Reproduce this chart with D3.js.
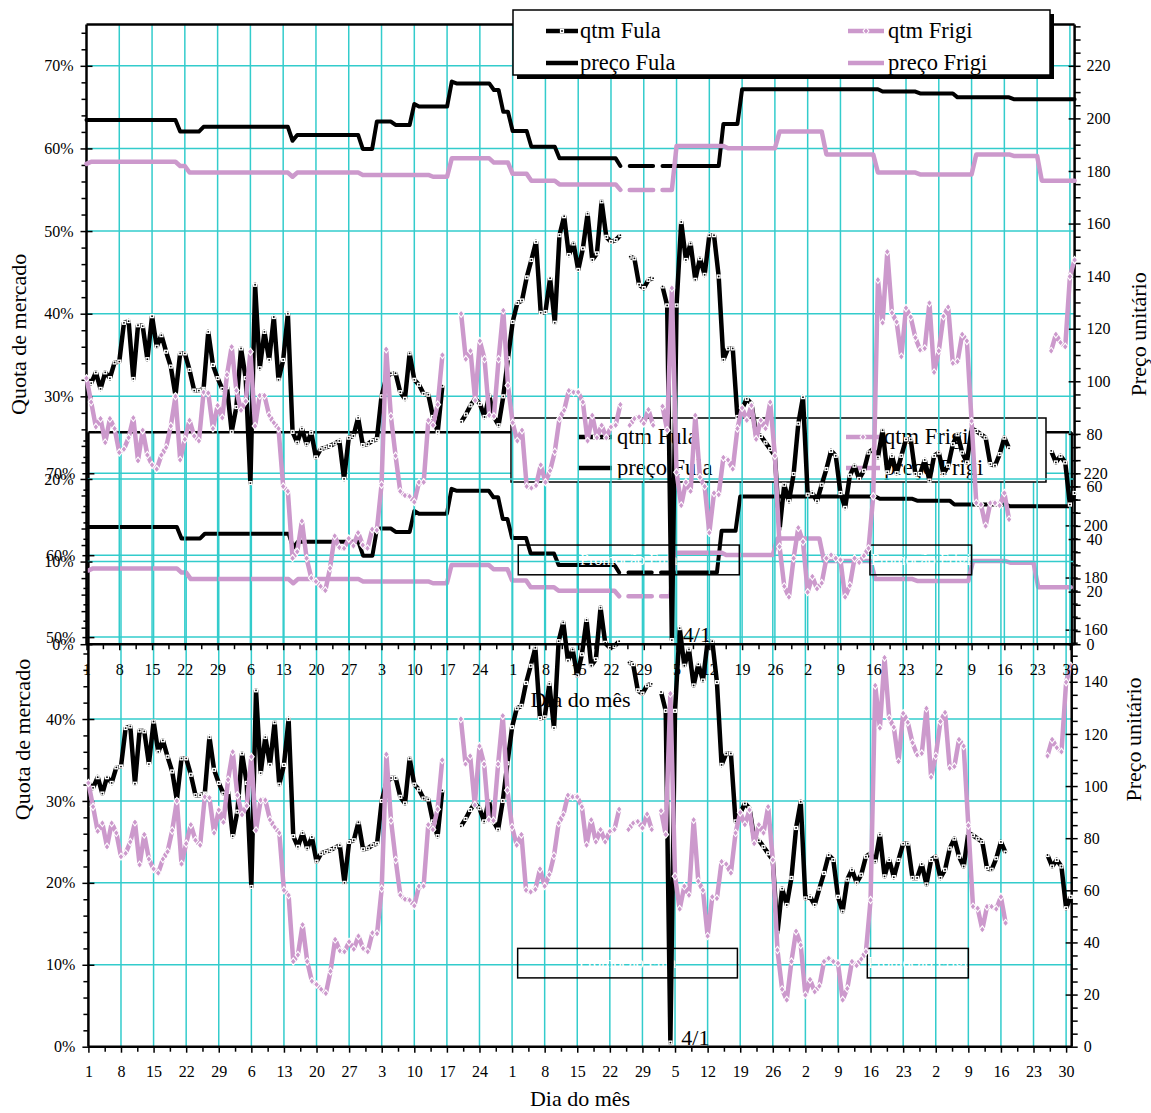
<!DOCTYPE html>
<html><head><meta charset="utf-8">
<script src="https://cdn.jsdelivr.net/npm/d3@7"></script>
<style>
html,body{margin:0;padding:0;background:#fff;}
svg{display:block;}
</style></head><body>
<svg id="chart" width="1151" height="1113"></svg>
<script>
// ---------- DATA (one value per day, 1 Sep .. 31 Mar; null = no data) ----------
const tickLabels = ["1","8","15","22","29","6","13","20","27","3","10","17","24","1","8","15","22","29","5","12","19","26","2","9","16","23","2","9","16","23","30"];

const qtmFula = [32.2,31.6,32.9,30.9,32.9,32.2,34.1,34.2,38.9,39.1,
32.1,38.6,38.5,34.5,39.7,36.0,37.4,35.4,33.6,30.1,
35.2,35.2,33.2,30.7,30.7,30.9,37.8,33.8,32.2,30.9,
31.1,25.7,28.7,35.8,32.2,19.5,43.5,33.4,37.8,34.4,
39.6,32.0,34.4,40.0,25.7,24.4,26.1,24.2,25.6,22.6,
23.6,23.8,24.0,24.3,24.6,20.0,25.0,25.2,27.4,24.1,
24.2,24.6,24.8,30.0,32.2,32.8,32.8,30.5,29.7,35.2,
32.0,31.4,30.3,30.2,27.5,25.7,31.3,null,null,null,
26.9,27.8,28.9,29.7,29.1,27.5,30.1,27.5,26.5,30.0,
34.6,39.0,41.3,41.6,44.4,46.5,48.7,40.1,40.2,44.3,
38.9,49.5,51.8,47.1,48.5,45.3,47.9,52.1,46.5,47.3,
53.6,49.3,48.7,48.9,49.5,null,46.9,46.7,43.5,43.1,
44.1,44.3,null,43.3,41.0,0.5,41.0,51.1,46.5,48.5,
44.1,46.7,44.7,49.5,49.5,44.5,34.4,35.8,35.8,27.5,
28.5,29.7,29.1,25.4,25.2,24.4,23.6,22.8,13.9,19.3,
17.3,20.6,26.7,29.9,18.1,18.3,17.3,19.3,21.2,23.4,
22.8,18.3,16.5,20.4,21.6,20.0,21.0,23.2,23.6,22.6,
25.9,20.8,22.8,20.7,22.8,24.8,24.8,20.6,20.6,22.3,
19.8,22.8,23.2,20.6,21.6,24.2,25.4,23.2,22.0,26.1,
25.8,25.4,25.0,21.8,21.6,23.0,25.0,23.7,null,null,
null,null,null,null,null,null,23.4,22.0,22.8,22.0,
16.9,18.3];

const qtmFrigi = [32.2,29.3,26.3,27.3,24.4,27.3,26.1,23.2,23.6,25.0,
27.4,22.2,25.9,22.9,21.7,21.2,22.9,23.8,26.4,30.0,
22.3,24.8,27.1,25.2,24.6,30.5,30.4,26.1,28.9,27.4,
32.6,36.0,30.7,28.3,29.4,35.4,26.4,30.1,30.1,27.7,
26.8,26.1,19.1,18.5,10.4,11.2,14.9,10.4,8.0,7.6,
7.0,6.5,9.2,13.1,11.7,11.6,12.8,11.9,13.5,12.0,
11.6,13.9,13.8,19.3,35.7,27.6,22.8,18.5,18.0,17.9,
17.2,19.6,19.6,27.1,26.5,29.0,35.0,null,null,null,
40.0,34.5,35.5,29.5,36.7,34.5,27.7,27.6,34.5,40.4,
31.3,26.8,24.6,25.9,19.1,18.9,19.2,21.7,19.6,21.0,
23.3,27.3,28.3,30.7,30.5,30.5,29.3,24.6,27.7,25.0,
26.5,25.0,26.3,26.5,29.0,null,26.5,27.3,27.5,26.7,
28.4,26.5,null,28.8,25.9,43.1,20.8,16.8,19.6,18.5,
27.7,20.2,19.1,13.5,18.3,18.1,22.6,22.3,21.2,26.1,
28.6,27.1,28.9,24.8,27.1,26.1,29.3,22.8,11.8,7.0,
5.7,10.4,14.1,12.4,6.3,8.2,6.7,7.4,10.4,10.8,
10.4,10.2,5.7,7.1,10.4,9.9,10.7,11.6,17.9,44.1,
38.9,47.5,40.1,39.0,34.8,40.7,39.6,37.1,35.6,35.8,
41.3,32.9,35.5,39.7,40.8,34.0,34.2,37.5,36.7,27.0,
17.1,16.9,14.3,17.1,17.1,16.8,18.3,15.1,null,null,
null,null,null,null,null,null,35.5,37.5,36.5,36.0,
44.5,46.5];

const precoFula = [199.4,199.4,199.4,199.4,199.4,199.4,199.4,199.4,199.4,199.4,
199.4,199.4,199.4,199.4,199.4,199.4,199.4,199.4,199.4,199.4,
195.0,195.0,195.0,195.0,195.0,196.8,196.8,196.8,196.8,196.8,
196.8,196.8,196.8,196.8,196.8,196.8,196.8,196.8,196.8,196.8,
196.8,196.8,196.8,196.8,191.5,193.7,193.7,193.7,193.7,193.7,
193.7,193.7,193.7,193.7,193.7,193.7,193.7,193.7,193.7,188.4,
188.4,188.4,198.8,198.8,198.8,198.8,197.5,197.5,197.5,197.5,
205.5,204.5,204.5,204.5,204.5,204.5,204.5,204.5,214.0,213.3,
213.3,213.3,213.3,213.3,213.3,213.3,213.3,210.8,210.8,202.5,
202.5,195.2,195.2,195.2,195.2,189.2,189.2,189.2,189.2,189.2,
189.2,184.8,184.8,184.8,184.8,184.8,184.8,184.8,184.8,184.8,
184.8,184.8,184.8,184.8,181.9,null,181.9,181.9,181.9,181.9,
181.9,181.9,null,181.9,181.9,181.9,181.9,181.9,181.9,181.9,
181.9,181.9,181.9,181.9,181.9,181.9,197.9,197.9,197.9,197.9,
211.1,211.1,211.1,211.1,211.1,211.1,211.1,211.1,211.1,211.1,
211.1,211.1,211.1,211.1,211.1,211.1,211.1,211.1,211.1,211.1,
211.1,211.1,211.1,211.1,211.1,211.1,211.1,211.1,211.1,211.1,
210.2,210.2,210.2,210.2,210.2,210.2,210.2,210.2,209.5,209.5,
209.5,209.5,209.5,209.5,209.5,209.5,208.0,208.0,208.0,208.0,
208.0,208.0,208.0,208.0,208.0,208.0,208.0,208.0,207.3,207.3,
207.3,207.3,207.3,207.3,207.3,207.3,207.3,207.3,207.3,207.3,
207.3,207.3];

const precoFrigi = [182.7,183.5,183.5,183.5,183.5,183.5,183.5,183.5,183.5,183.5,
183.5,183.5,183.5,183.5,183.5,183.5,183.5,183.5,183.5,183.5,
181.9,181.9,179.4,179.4,179.4,179.4,179.4,179.4,179.4,179.4,
179.4,179.4,179.4,179.4,179.4,179.4,179.4,179.4,179.4,179.4,
179.4,179.4,179.4,179.4,177.8,179.4,179.4,179.4,179.4,179.4,
179.4,179.4,179.4,179.4,179.4,179.4,179.4,179.4,179.4,178.5,
178.5,178.5,178.5,178.5,178.5,178.5,178.5,178.5,178.5,178.5,
178.5,178.5,178.5,178.5,177.8,177.8,177.8,177.8,184.8,184.8,
184.8,184.8,184.8,184.8,184.8,184.8,184.8,183.2,183.2,183.2,
183.2,178.9,178.9,178.9,178.9,176.3,176.3,176.3,176.3,176.3,
176.3,174.9,174.9,174.9,174.9,174.9,174.9,174.9,174.9,174.9,
174.9,174.9,174.9,174.9,172.8,null,172.8,172.8,172.8,172.8,
172.8,172.8,null,172.8,172.8,172.8,189.5,189.5,189.5,189.5,
189.5,189.5,189.5,189.5,189.5,189.5,189.5,188.6,188.6,188.6,
188.6,188.6,188.6,188.6,188.6,188.6,188.6,188.6,195.0,195.0,
195.0,195.0,195.0,195.0,195.0,195.0,195.0,195.0,186.3,186.3,
186.3,186.3,186.3,186.3,186.3,186.3,186.3,186.3,186.3,179.4,
179.4,179.4,179.4,179.4,179.4,179.4,179.4,179.4,178.7,178.7,
178.7,178.7,178.7,178.7,178.7,178.7,178.7,178.7,178.7,178.7,
186.3,186.3,186.3,186.3,186.3,186.3,186.3,186.3,185.7,185.7,
185.7,185.7,185.7,185.7,176.3,176.3,176.3,176.3,176.3,176.3,
176.3,176.3];

const pctTicks = [0,10,20,30,40,50,60,70];
const priceTicks = [0,20,40,60,80,100,120,140,160,180,200,220];
const boxDays = [[92.2,139.4],[167.3,189.0]];
const boxPct = [8.4,12.0];
const boxTexts = ["Promoção Fula","Promoção Frigi"];
const noteDay = 125, noteText = "4/1";

// ---------- STYLE ----------
const FONT = '"Liberation Serif","Times New Roman",serif';
const GRID = "#33cccc", PINK = "#cc99cc", BLACK = "#000";
const svg = d3.select("#chart");
svg.append("rect").attr("width",1151).attr("height",1113).attr("fill","#fff");

const charts = [
  {x0:88.4, x1:1071.7, maxDay:211.2, yTop:432.3, yBot:1046.7, titleDy:59,
   leg:{x:511,y:418,w:535,h:64,shadow:false,l1:[578,612],t1:617,l2:[846,880],t2:884,r1:437,r2:468},
   titleL:22, titleR:1133},
  {x0:86.5, x1:1074.6, maxDay:211, yTop:24.5, yBot:644.2, titleDy:63,
   leg:{x:513,y:10,w:537,h:65,shadow:true,l1:[546,578],t1:580,l2:[848,884],t2:888,r1:31,r2:63},
   titleL:18, titleR:1138}
];

function styleAxis(sel){
  sel.attr("font-family",FONT).attr("font-size",16);
  sel.select(".domain").remove();
  sel.selectAll(".tick line").attr("stroke",BLACK).attr("stroke-width",1.5);
  sel.selectAll(".tick text").attr("fill",BLACK);
}

function drawChart(c){
  const g = svg.append("g");
  const x = d3.scaleLinear().domain([0,c.maxDay]).range([c.x0,c.x1]);
  const y = d3.scaleLinear().domain([0,75]).range([c.yBot,c.yTop]);
  const yR = d3.scaleLinear().domain([0,75*220/70]).range([c.yBot,c.yTop]);
  const weekDays = tickLabels.map((_,i)=>i*7);

  // gridlines
  const grid = g.append("g").attr("stroke",GRID).attr("stroke-width",1.5);
  grid.selectAll("line.v").data(weekDays.slice(1)).join("line").attr("class","v")
    .attr("x1",d=>x(d)).attr("x2",d=>x(d)).attr("y1",c.yTop).attr("y2",c.yBot);
  grid.selectAll("line.h").data(pctTicks.slice(1)).join("line").attr("class","h")
    .attr("x1",c.x0).attr("x2",c.x1).attr("y1",d=>y(d)).attr("y2",d=>y(d));

  // axes
  const minorPct = d3.range(2,76,2).filter(v=>v%10!==0);
  const aLm = g.append("g").attr("transform",`translate(${c.x0},0)`)
    .call(d3.axisLeft(y).tickValues(minorPct).tickSize(5).tickFormat(""));
  styleAxis(aLm);
  const aL = g.append("g").attr("transform",`translate(${c.x0},0)`)
    .call(d3.axisLeft(y).tickValues(pctTicks).tickSize(6).tickPadding(7).tickFormat(d=>d+"%"));
  styleAxis(aL); aL.selectAll(".tick line").attr("x1",6);

  const minorPrice = d3.range(5,236,5).filter(v=>v%20!==0);
  const aRm = g.append("g").attr("transform",`translate(${c.x1},0)`)
    .call(d3.axisRight(yR).tickValues(minorPrice).tickSize(6).tickFormat(""));
  styleAxis(aRm);
  const aR = g.append("g").attr("transform",`translate(${c.x1},0)`)
    .call(d3.axisRight(yR).tickValues(priceTicks).tickSize(6).tickPadding(6));
  styleAxis(aR); aR.selectAll(".tick line").attr("x1",-6);

  const minorDays = d3.range(3.5,211,7);
  const aBm = g.append("g").attr("transform",`translate(0,${c.yBot})`)
    .call(d3.axisBottom(x).tickValues(minorDays).tickSize(5).tickFormat(""));
  styleAxis(aBm);
  const aB = g.append("g").attr("transform",`translate(0,${c.yBot})`)
    .call(d3.axisBottom(x).tickValues(weekDays).tickSize(6).tickPadding(13).tickFormat((d,i)=>tickLabels[i]));
  styleAxis(aB);

  // frame
  const fr = g.append("g").attr("stroke",BLACK).attr("stroke-width",2.5);
  fr.append("line").attr("x1",c.x0).attr("x2",c.x1).attr("y1",c.yTop).attr("y2",c.yTop);
  fr.append("line").attr("x1",c.x0).attr("x2",c.x1).attr("y1",c.yBot).attr("y2",c.yBot);
  fr.append("line").attr("x1",c.x0).attr("x2",c.x0).attr("y1",c.yTop).attr("y2",c.yBot);
  fr.append("line").attr("x1",c.x1).attr("x2",c.x1).attr("y1",c.yTop).attr("y2",c.yBot);

  // annotation boxes
  boxDays.forEach((b,i)=>{
    g.append("rect").attr("x",x(b[0])).attr("y",y(boxPct[1]))
      .attr("width",x(b[1])-x(b[0])).attr("height",y(boxPct[0])-y(boxPct[1]))
      .attr("fill","none").attr("stroke",BLACK).attr("stroke-width",1.5);
    g.append("text").attr("x",(x(b[0])+x(b[1]))/2).attr("y",(y(boxPct[0])+y(boxPct[1]))/2+5)
      .attr("text-anchor","middle").attr("font-family",FONT).attr("font-size",16)
      .attr("fill","#fff").text(boxTexts[i]);
  });

  // series
  const mkLine = ys => d3.line().defined(d=>d!=null).x((d,i)=>x(i)).y(d=>ys(d));
  g.append("path").attr("d",mkLine(y)(qtmFula)).attr("fill","none").attr("stroke",BLACK)
    .attr("stroke-width",4.5).attr("stroke-linejoin","round");
  const fPts = qtmFula.map((v,i)=>({v,i})).filter(d=>d.v!=null);
  g.append("g").selectAll("rect").data(fPts).join("rect")
    .attr("x",d=>x(d.i)-2.1).attr("y",d=>y(d.v)-2.1).attr("width",4.2).attr("height",4.2).attr("fill","#fff");
  g.append("g").selectAll("circle").data(fPts).join("circle")
    .attr("cx",d=>x(d.i)).attr("cy",d=>y(d.v)).attr("r",0.9).attr("fill",BLACK);

  g.append("path").attr("d",mkLine(y)(qtmFrigi)).attr("fill","none").attr("stroke",PINK)
    .attr("stroke-width",4.5).attr("stroke-linejoin","round");
  const pPts = qtmFrigi.map((v,i)=>({v,i})).filter(d=>d.v!=null);
  g.append("g").selectAll("path").data(pPts).join("path")
    .attr("d",d=>`M${x(d.i)},${y(d.v)-3.6}l2.9,3.6l-2.9,3.6l-2.9,-3.6z`)
    .attr("fill",PINK).attr("stroke","#fff").attr("stroke-width",1.1);

  g.append("path").attr("d",mkLine(yR)(precoFula)).attr("fill","none").attr("stroke",BLACK)
    .attr("stroke-width",4).attr("stroke-linejoin","round").attr("stroke-linecap","round");
  g.append("path").attr("d",mkLine(yR)(precoFrigi)).attr("fill","none").attr("stroke",PINK)
    .attr("stroke-width",4.5).attr("stroke-linejoin","round").attr("stroke-linecap","round");

  // note 4/1
  g.append("text").attr("x",x(noteDay)+11).attr("y",c.yBot-2).attr("font-family",FONT)
    .attr("font-size",22).attr("fill",BLACK).text(noteText);

  // legend
  const L = c.leg;
  const lg = g.append("g");
  if(L.shadow) lg.append("rect").attr("x",L.x+4).attr("y",L.y+4).attr("width",L.w).attr("height",L.h).attr("fill",BLACK);
  lg.append("rect").attr("x",L.x).attr("y",L.y).attr("width",L.w).attr("height",L.h)
    .attr("fill","#fff").attr("stroke",BLACK).attr("stroke-width",1.5);
  const items = [
    {name:"qtm Fula", col:BLACK, lx:L.l1, tx:L.t1, ry:L.r1, mk:"sq"},
    {name:"preço Fula", col:BLACK, lx:L.l1, tx:L.t1, ry:L.r2, mk:null},
    {name:"qtm Frigi", col:PINK, lx:L.l2, tx:L.t2, ry:L.r1, mk:"dia"},
    {name:"preço Frigi", col:PINK, lx:L.l2, tx:L.t2, ry:L.r2, mk:null}
  ];
  items.forEach(it=>{
    lg.append("line").attr("x1",it.lx[0]).attr("x2",it.lx[1]).attr("y1",it.ry).attr("y2",it.ry)
      .attr("stroke",it.col).attr("stroke-width",4.5);
    const mx=(it.lx[0]+it.lx[1])/2;
    if(it.mk==="sq"){
      lg.append("rect").attr("x",mx-2.1).attr("y",it.ry-2.1).attr("width",4.2).attr("height",4.2).attr("fill","#fff");
      lg.append("circle").attr("cx",mx).attr("cy",it.ry).attr("r",0.9).attr("fill",BLACK);
    } else if(it.mk==="dia"){
      lg.append("path").attr("d",`M${mx},${it.ry-3.6}l2.9,3.6l-2.9,3.6l-2.9,-3.6z`)
        .attr("fill",PINK).attr("stroke","#fff").attr("stroke-width",1.1);
    }
    lg.append("text").attr("x",it.tx).attr("y",it.ry+7).attr("font-family",FONT).attr("font-size",22.5)
      .attr("fill",BLACK).text(it.name);
  });

  // titles
  const ym = (c.yTop+c.yBot)/2;
  g.append("text").attr("transform",`translate(${c.titleL},${ym}) rotate(-90)`)
    .attr("text-anchor","middle").attr("dominant-baseline","central")
    .attr("font-family",FONT).attr("font-size",22).text("Quota de mercado");
  g.append("text").attr("transform",`translate(${c.titleR},${ym}) rotate(-90)`)
    .attr("text-anchor","middle").attr("dominant-baseline","central")
    .attr("font-family",FONT).attr("font-size",22).text("Preço unitário");
  g.append("text").attr("x",(c.x0+c.x1)/2).attr("y",c.yBot+c.titleDy).attr("text-anchor","middle")
    .attr("font-family",FONT).attr("font-size",22).text("Dia do mês");
}

charts.forEach(drawChart);
</script>
</body></html>
